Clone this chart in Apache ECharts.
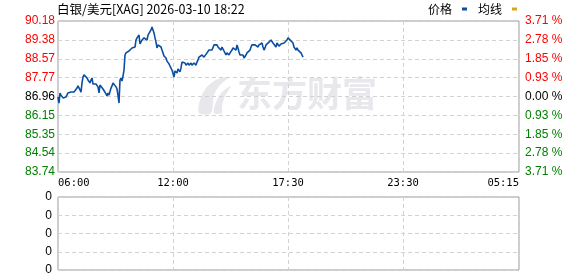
<!DOCTYPE html>
<html>
<head>
<meta charset="utf-8">
<script src="https://cdn.jsdelivr.net/npm/echarts@6/dist/echarts.min.js"></script>
<style>
html,body{margin:0;padding:0;background:#fff;}
#chart{width:578px;height:276px;}
</style>
</head>
<body>
<div id="chart"></div>
<script>
// ---- data ----
const titleText = '白银/美元[XAG] 2026-03-10 18:22';
const timeLabels = ['06:00', '12:00', '17:30', '23:30', '05:15'];
const slotCount = 462;                       // 1-px time slots across the session
const labelSlots = [0, 115, 230, 345, 461];  // slots carrying the time labels
const priceTicks = ['83.74','84.54','85.35','86.15','86.96','87.77','88.57','89.38','90.18'];
const pctTicks = ['3.71','2.78','1.85','0.93','0.00','0.93','1.85','2.78','3.71'];
const volTicks = ['0','0','0','0','0'];
const priceMin = 83.74, priceMax = 90.18, priceStep = 0.805;
const prices = [
 86.94,86.68,87.11,87.02,87.07,86.90,86.98,86.85,86.94,86.98,
 87.11,87.15,87.11,87.15,87.15,87.19,87.15,87.11,87.19,87.32,
 87.41,87.45,87.24,87.15,87.54,87.79,87.88,87.96,87.92,87.75,
 87.66,87.58,87.54,87.66,87.75,87.49,87.54,87.45,87.49,87.41,
 87.37,87.11,87.45,87.41,87.49,87.28,87.24,87.32,87.07,86.98,
 87.11,87.02,86.98,87.32,87.41,87.54,87.54,87.49,87.37,87.28,
 87.02,86.68,87.66,87.75,87.62,87.83,88.09,88.73,88.82,88.86,
 88.77,88.90,88.86,88.94,89.03,89.07,89.11,89.07,89.37,89.46,
 89.54,89.58,89.20,89.24,89.37,89.41,89.46,89.50,89.46,89.37,
 89.58,89.63,89.54,89.80,89.92,89.88,89.67,89.46,89.28,89.03,
 89.16,89.24,89.20,89.07,88.94,88.82,88.69,88.77,88.60,88.47,
 88.39,88.35,88.26,88.18,88.09,88.01,87.79,88.05,88.09,87.96,
 88.13,88.18,88.01,88.18,88.43,88.39,88.35,88.39,88.30,88.35,
 88.39,88.30,88.35,88.39,88.30,88.35,88.39,88.35,88.30,88.43,
 88.52,88.64,88.60,88.64,88.73,88.69,88.64,88.60,88.60,88.82,
 88.86,88.94,88.90,88.94,88.94,88.99,89.16,89.11,89.24,89.16,
 89.07,89.07,89.03,88.94,89.07,89.03,88.90,88.86,88.73,88.82,
 88.86,88.73,88.82,88.90,88.94,89.03,89.07,89.07,88.94,89.16,
 89.03,88.86,88.73,88.69,88.77,88.73,88.60,88.52,88.73,88.82,
 88.86,88.86,88.94,89.07,89.16,89.16,89.24,89.16,89.20,89.24,
 89.07,89.16,89.16,89.24,89.24,89.07,88.94,89.03,89.16,89.24,
 89.24,89.28,89.33,89.37,89.33,89.24,89.20,89.16,89.07,89.24,
 89.16,89.11,89.07,89.20,89.16,89.16,89.24,89.24,89.28,89.37,
 89.46,89.46,89.41,89.33,89.28,89.24,89.07,89.03,88.94,89.03,
 88.94,88.99,88.86,88.82,88.73,88.64
];
const avgLine = [];

// ---- chart ----
const slots = Array.from({length: slotCount}, (_, i) => String(i));
const chart = echarts.init(document.getElementById('chart'), null, {renderer: 'canvas'});
const red = '#ff0000', green = '#008000', black = '#000000';
const tickColor = i => i > 4 ? 'r' : (i < 4 ? 'g' : 'k');
const richColors = {
  r: {color: red, fontSize: 12, fontFamily: 'Liberation Sans'},
  g: {color: green, fontSize: 12, fontFamily: 'Liberation Sans'},
  k: {color: black, fontSize: 12, fontFamily: 'Liberation Sans'}
};
const dashed = {show: true, lineStyle: {color: '#d2d2d2', type: [4, 3], width: 1}};
const vSplit = Object.assign({}, dashed, {interval: (idx) => labelSlots.indexOf(idx) >= 0});

chart.setOption({
  animation: false,
  backgroundColor: '#fff',
  title: {
    text: titleText, left: 57, top: 3, padding: 0,
    textStyle: {fontSize: 12.5, fontWeight: 'normal', color: '#000', fontFamily: 'Noto Sans CJK SC'}
  },
  legend: {
    data: ['价格', '均线'], right: 61, top: 3, padding: 0,
    align: 'right', icon: 'rect', itemWidth: 5, itemHeight: 3, itemGap: 11,
    textStyle: {fontSize: 12, color: '#000', fontFamily: 'Noto Sans CJK SC', padding: [0, 5, 0, 0]}
  },
  graphic: [
    {
      type: 'polygon', z: -10, silent: true,
      shape: {points: [[199, 113], [200, 100], [206, 88], [216, 80], [229, 77], [220, 85], [214, 95], [211, 113]], smooth: 0.3},
      style: {fill: '#e8e8ec'}
    },
    {
      type: 'polygon', z: -10, silent: true,
      shape: {points: [[214, 113], [216, 102], [222, 92], [231, 86], [225, 96], [222, 106], [222, 113]], smooth: 0.3},
      style: {fill: '#e8e8ec'}
    },
    {
      type: 'text', left: 237, top: 76, z: -10, silent: true,
      style: {text: '东方财富', fill: '#e8e8ec', fontSize: 35, fontWeight: 'bold', fontFamily: 'Noto Sans CJK SC'}
    }
  ],
  grid: [
    {left: 58, top: 21, width: 461, height: 151, show: true, borderColor: '#999', borderWidth: 1, backgroundColor: 'transparent'},
    {left: 58, top: 197, width: 461, height: 73, show: true, borderColor: '#999', borderWidth: 1, backgroundColor: 'transparent'}
  ],
  xAxis: [
    {
      type: 'category', gridIndex: 0, data: slots, boundaryGap: false,
      axisLine: {show: false}, axisTick: {show: false},
      splitLine: vSplit,
      axisLabel: {
        interval: (idx) => labelSlots.indexOf(idx) >= 0,
        formatter: (v, idx) => { const k = labelSlots.indexOf(idx); return k >= 0 ? timeLabels[k] : ''; },
        alignMinLabel: 'left', alignMaxLabel: 'right',
        showMinLabel: true, showMaxLabel: true,
        margin: 6, fontSize: 10.5, color: '#000', fontFamily: 'DejaVu Sans Mono'
      }
    },
    {
      type: 'category', gridIndex: 1, data: slots, boundaryGap: false,
      axisLine: {show: false}, axisTick: {show: false}, axisLabel: {show: false},
      splitLine: vSplit
    }
  ],
  yAxis: [
    {
      type: 'value', gridIndex: 0, min: priceMin, max: priceMax, interval: priceStep,
      axisLine: {show: false}, axisTick: {show: false}, splitLine: dashed,
      axisLabel: {
        margin: 3, rich: richColors,
        formatter: (v) => { const i = Math.round((v - priceMin) / priceStep); return '{' + tickColor(i) + '|' + priceTicks[i] + '}'; }
      }
    },
    {
      type: 'value', gridIndex: 0, position: 'right', min: priceMin, max: priceMax, interval: priceStep,
      axisLine: {show: false}, axisTick: {show: false}, splitLine: {show: false},
      axisLabel: {
        margin: 6, rich: richColors,
        formatter: (v) => { const i = Math.round((v - priceMin) / priceStep); return '{' + tickColor(i) + '|' + pctTicks[i] + ' %}'; }
      }
    },
    {
      type: 'value', gridIndex: 1, min: 0, max: 4, interval: 1,
      axisLine: {show: false}, axisTick: {show: false}, splitLine: dashed,
      axisLabel: {margin: 6, fontSize: 12, color: '#000', fontFamily: 'Liberation Sans',
        formatter: (v) => volTicks[Math.round(v)]}
    }
  ],
  series: [
    {
      name: '价格', type: 'line', xAxisIndex: 0, yAxisIndex: 0, data: prices,
      showSymbol: false, symbol: 'none', color: '#0b4fa0',
      lineStyle: {color: '#0b4fa0', width: 1.6}
    },
    {
      name: '均线', type: 'line', xAxisIndex: 0, yAxisIndex: 0, data: avgLine,
      showSymbol: false, symbol: 'none', color: '#e0a41c',
      lineStyle: {color: '#e0a41c', width: 1}
    }
  ]
});
</script>
</body>
</html>
